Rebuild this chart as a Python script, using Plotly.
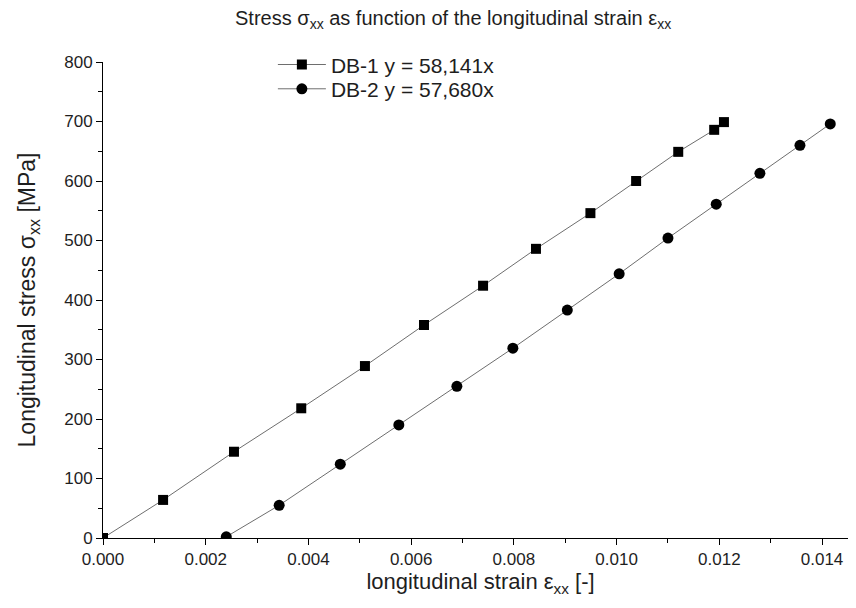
import plotly.graph_objects as go

# DB-1 (squares)
db1_strain = [0.0, 0.00117, 0.00255, 0.00386, 0.00510, 0.00625, 0.00740, 0.00843,
              0.00949, 0.01038, 0.01120, 0.01190, 0.01209]
db1_stress = [0, 64, 145, 218, 289, 358, 424, 486, 546, 600, 649, 686, 699]

# DB-2 (circles)
db2_strain = [0.00240, 0.00343, 0.00462, 0.00576, 0.00689, 0.00798, 0.00904,
              0.01005, 0.01100, 0.01194, 0.01279, 0.01357, 0.01416]
db2_stress = [2, 55, 124, 190, 255, 319, 383, 444, 504, 561, 613, 660, 696]

series_names = ["DB-1 y = 58,141x", "DB-2 y = 57,680x"]
x_ticks = [0.000, 0.002, 0.004, 0.006, 0.008, 0.010, 0.012, 0.014]
x_tick_labels = ["0.000", "0.002", "0.004", "0.006", "0.008", "0.010", "0.012", "0.014"]
x_minor = [0.001, 0.003, 0.005, 0.007, 0.009, 0.011, 0.013]
y_ticks = [0, 100, 200, 300, 400, 500, 600, 700, 800]
y_minor = [50, 150, 250, 350, 450, 550, 650, 750]

FONT = "Liberation Sans, Arial, sans-serif"
TXT = "#1e1e1e"

fig = go.Figure()
fig.add_trace(go.Scatter(
    x=db1_strain, y=db1_stress, name=series_names[0], mode="lines+markers",
    line=dict(color="#6e6e6e", width=1),
    marker=dict(symbol="square", size=10, color="black"),
    legend="legend",
))
fig.add_trace(go.Scatter(
    x=db2_strain, y=db2_stress, name=series_names[1], mode="lines+markers",
    line=dict(color="#6e6e6e", width=1),
    marker=dict(symbol="circle", size=11, color="black"),
    legend="legend2",
))

axis_common = dict(
    showline=True, linecolor="black", linewidth=1, showgrid=False, zeroline=False,
    ticks="outside", ticklen=6, tickwidth=1, tickcolor="black",
    tickfont=dict(family=FONT, size=17, color=TXT),
)

legend_common = dict(
    xanchor="left", yanchor="middle", x=0.225,
    bgcolor="rgba(0,0,0,0)", itemwidth=48,
    font=dict(family=FONT, size=21, color=TXT),
)

fig.update_layout(
    width=856, height=608,
    margin=dict(l=95, r=6, t=54, b=78),
    paper_bgcolor="white", plot_bgcolor="white",
    font=dict(family=FONT, color=TXT),
    title=dict(
        text="Stress σ<sub>xx</sub> as function of the longitudinal strain ε<sub>xx</sub>",
        x=0.52, xref="container", xanchor="center", y=0.984, yanchor="middle",
        font=dict(family=FONT, size=20, color=TXT),
    ),
    xaxis=dict(
        range=[0, 0.0147], tickvals=x_ticks, ticktext=x_tick_labels,
        minor=dict(tickvals=x_minor, ticks="outside", ticklen=4, tickwidth=1, tickcolor="black"),
        title=dict(text="longitudinal strain ε<sub>xx</sub> [-]", standoff=5,
                   font=dict(family=FONT, size=22, color=TXT)),
        **axis_common,
    ),
    yaxis=dict(
        range=[0, 800], tickvals=y_ticks,
        minor=dict(tickvals=y_minor, ticks="outside", ticklen=4, tickwidth=1, tickcolor="black"),
        title=dict(text="Longitudinal stress σ<sub>xx</sub> [MPa]", standoff=22,
                   font=dict(family=FONT, size=23, color=TXT)),
        **axis_common,
    ),
    legend=dict(y=0.994, **legend_common),
    legend2=dict(y=0.943, **legend_common),
    showlegend=True,
)

fig.write_html("out.html")
